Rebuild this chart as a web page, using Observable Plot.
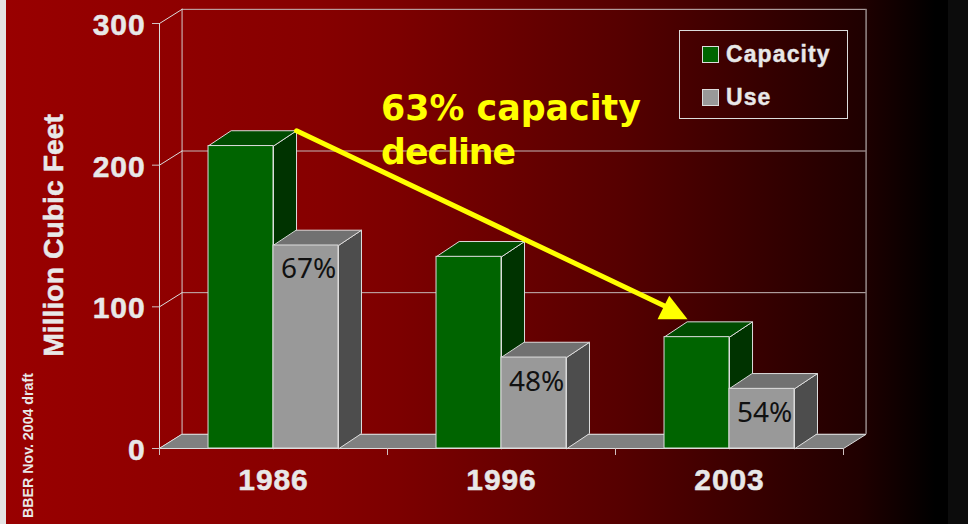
<!DOCTYPE html>
<html>
<head>
<meta charset="utf-8">
<script src="https://cdn.jsdelivr.net/npm/d3@7"></script>
<script src="https://cdn.jsdelivr.net/npm/@observablehq/plot@0.6"></script>
<style>
  html, body { margin: 0; padding: 0; width: 968px; height: 524px; overflow: hidden; background: #0c0c0c; }
  #stage { position: absolute; left: 6px; top: 0; width: 942px; height: 524px;
           background: linear-gradient(to right, #990000 0px, #860000 314px, #7c0000 394px, #560000 614px, #200000 854px, #000000 929px); }
  #edge { position: absolute; left: 0; top: 0; width: 6px; height: 524px; background: #e4e4e4; }
  #chart { position: absolute; left: 0; top: 0; }
  #chart svg { overflow: visible; background: transparent; }
  svg g[font-size="30"] { letter-spacing: .9px; }
  svg g[font-size="34.7"] { letter-spacing: -1px; }
  #legend { position: absolute; left: 679px; top: 30px; width: 167px; height: 87px; border: 1px solid #dcdcdc; box-sizing: content-box;
            font: bold 23px "Liberation Sans", Arial, sans-serif; color: #e8e8e8; letter-spacing: 1.1px; -webkit-text-stroke: .4px #e8e8e8; }
  #legend .row { position: absolute; left: 22px; height: 17px; display: flex; align-items: center; }
  #legend i { display: block; width: 15px; height: 15px; border: 1px solid #ddd; margin-right: 7px; }
</style>
</head>
<body>
<div id="edge"></div>
<div id="stage"></div>
<div id="chart"></div>
<div id="legend"></div>
<script>
const years = ["1986", "1996", "2003"];
const capacity = [213.5, 135.3, 78.6];
const use = [143.3, 64.2, 42.1];
const usePercent = ["67%", "48%", "54%"];
const yTicks = [0, 100, 200, 300];
const xTicks = [0, 1, 2, 3];
const seriesNames = ["Capacity", "Use"];
const yLabel = "Million Cubic Feet";
const note = "BBER Nov. 2004 draft";
const calloutFirst = "63% capacity";
const calloutSecond = "decline";

const colors = {
  Capacity: {front: "#006400", top: "#004c00", side: "#003300"},
  Use: {front: "#999999", top: "#717171", side: "#4d4d4d"}
};
const line = "#dcdcdc";
const text = "#e8e8e8";

// 3D depth of the chart box and bars, in data units
const wall = {x: 0.099, y: 10};
const depth = {x: 0.101, y: 10.8};
// each category group: capacity bar, then use bar
const slots = {Capacity: [0.215, 0.5], Use: [0.5, 0.785]};

const bars = years.flatMap((year, i) => [
  {series: "Capacity", i, year, x1: i + slots.Capacity[0], x2: i + slots.Capacity[1], v: capacity[i]},
  {series: "Use", i, year, x1: i + slots.Use[0], x2: i + slots.Use[1], v: use[i]}
]);
const topFace = b => [[b.x1, b.v], [b.x2, b.v], [b.x2 + depth.x, b.v + depth.y], [b.x1 + depth.x, b.v + depth.y]];
const sideFace = b => [[b.x2, 0], [b.x2, b.v], [b.x2 + depth.x, b.v + depth.y], [b.x2 + depth.x, depth.y]];
const polys = (rows, face) => rows.flatMap((b, k) => face(b).map(([x, y]) => ({id: k, x, y})));
const poly = (rows, fill, stroke = line) =>
  Plot.line(rows, {x: "x", y: "y", z: "id", fill, stroke, strokeWidth: 1, curve: "linear-closed", strokeLinejoin: "round"});

const seriesMarks = s => {
  const rows = bars.filter(b => b.series === s);
  return [
    poly(polys(rows, sideFace), colors[s].side),
    poly(polys(rows, topFace), colors[s].top),
    Plot.rect(rows, {x1: "x1", x2: "x2", y1: 0, y2: "v", fill: colors[s].front, stroke: line, strokeWidth: 1})
  ];
};

// arrow runs from the back corner of the 1986 capacity bar to the back corner of the 2003 capacity bar
const from = bars[0], to = bars[4];
const arrowStart = {x: from.x2 + depth.x, y: from.v + depth.y};
const arrowTip = {x: to.x1 + depth.x, y: to.v + depth.y + 1.8};
const arrowHead = [
  {id: 0, x: arrowTip.x, y: arrowTip.y},
  {id: 0, x: arrowTip.x - 0.0803, y: arrowTip.y + 16.6},
  {id: 0, x: arrowTip.x - 0.1316, y: arrowTip.y}
];
const arrowEnd = {x: arrowTip.x - 0.05, y: arrowTip.y + 5.5};

const floor = [
  {id: 0, x: 0, y: 0}, {id: 0, x: 3, y: 0},
  {id: 0, x: 3 + wall.x, y: wall.y}, {id: 0, x: wall.x, y: wall.y}
];
const wallDiagonals = yTicks.flatMap(t => [{id: t, x: 0, y: t}, {id: t, x: wall.x, y: t + wall.y}]);

const font = "'Liberation Sans', Arial, sans-serif";
const boldText = {fontWeight: "bold", fill: text, stroke: text, strokeWidth: 0.5};
const calloutStyle = {textAnchor: "start", fontFamily: "'DejaVu Sans', sans-serif", fontWeight: "bold", fill: "#ffff00"};

const chart = Plot.plot({
  width: 968, height: 524,
  marginLeft: 159, marginRight: 125, marginTop: 23, marginBottom: 76,
  style: {background: "transparent", fontFamily: font, overflow: "visible"},
  x: {domain: [0, 3]},
  y: {domain: [0, 300]},
  marks: [
    // walls
    Plot.ruleY(yTicks, {y: d => d + wall.y, x1: wall.x, x2: 3 + wall.x, stroke: "#c4b8b8", strokeWidth: 1}),
    Plot.ruleX([wall.x, 3 + wall.x], {y1: wall.y, y2: 300 + wall.y, stroke: "#d4cccc", strokeWidth: 1}),
    Plot.ruleX([0], {y1: 0, y2: 300, stroke: line, strokeWidth: 1}),
    Plot.line(wallDiagonals, {x: "x", y: "y", z: "id", stroke: line, strokeWidth: 1}),
    poly(floor, "#808080"),
    // axes
    Plot.axisY({ticks: yTicks, tickSize: 7, tickFormat: () => "", label: null, stroke: "#d0c0c0"}),
    Plot.axisX({ticks: xTicks, tickSize: 7, tickFormat: () => "", label: null, stroke: "#d0c0c0"}),
    Plot.text(yTicks, {x: 0, y: d => d, text: d => String(d), dx: -14, dy: 2, textAnchor: "end", fontSize: 30, ...boldText}),
    Plot.text(years, {x: (d, i) => i + 0.5, y: 0, text: d => d, dy: 32, fontSize: 30, ...boldText}),
    // axis title and note
    Plot.text([yLabel], {x: 0, y: 149, text: d => d, dx: -106, dy: -2, rotate: -90, fontSize: 28.4, ...boldText}),
    Plot.text([note], {x: 0, y: 0, text: d => d, dx: -131, dy: -3, rotate: -90, fontSize: 14.2, fontWeight: "bold", fill: text}),
    // bars
    ...seriesMarks("Capacity"),
    ...seriesMarks("Use"),
    Plot.text(usePercent, {x: (d, i) => i + 0.645, y: (d, i) => use[i], text: d => d, dx: 2, dy: 24,
      fontFamily: "'Noto Sans', sans-serif", fontSize: 28, fill: "#111111"}),
    // call-out arrow
    Plot.line([arrowStart, arrowEnd], {x: "x", y: "y", stroke: "#ffff00", strokeWidth: 5}),
    poly(arrowHead, "#ffff00", "none"),
    Plot.text([calloutFirst], {x: 0.972, y: 240, text: d => d, fontSize: 34.8, ...calloutStyle}),
    Plot.text([calloutSecond], {x: 0.972, y: 209, text: d => d, fontSize: 34.7, ...calloutStyle})
  ]
});
document.getElementById("chart").append(chart);

const legend = document.getElementById("legend");
seriesNames.forEach((name, k) => {
  const row = document.createElement("div");
  row.className = "row";
  row.style.top = (15 + k * 43) + "px";
  const sw = document.createElement("i");
  sw.style.background = colors[name].front;
  row.append(sw, document.createTextNode(name));
  legend.append(row);
});
</script>
</body>
</html>
